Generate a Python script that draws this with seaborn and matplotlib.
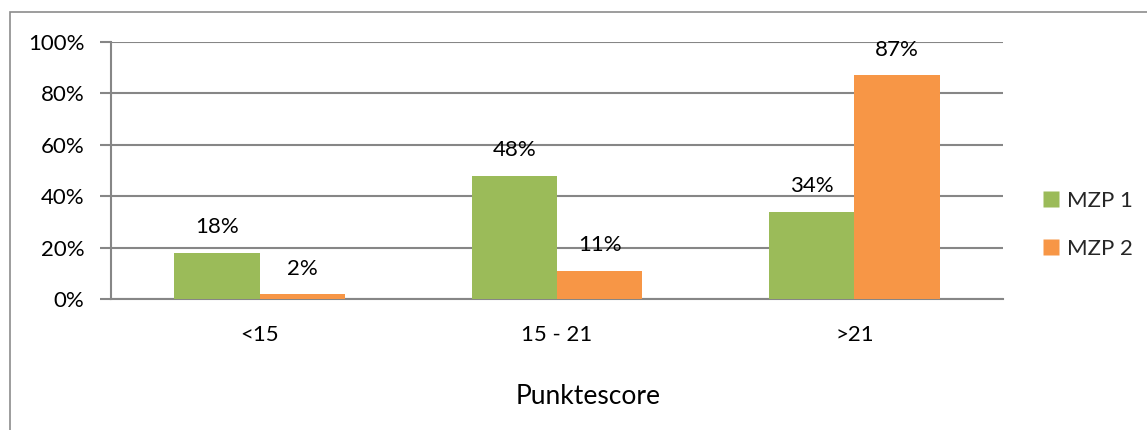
import matplotlib
matplotlib.use("Agg")
import matplotlib.pyplot as plt
import matplotlib.ticker as mticker
from matplotlib.lines import Line2D
from matplotlib.patches import Rectangle
import seaborn as sns
import pandas as pd

# Data
categories = ["<15", "15 - 21", ">21"]
series_names = ["MZP 1", "MZP 2"]
mzp1 = [0.18, 0.48, 0.34]
mzp2 = [0.02, 0.11, 0.87]
y_ticks = [0.0, 0.2, 0.4, 0.6, 0.8, 1.0]
x_label = "Punktescore"

colors = {"MZP 1": "#9BBB59", "MZP 2": "#F79646"}
grid_color = "#868686"
FS = 16

df = pd.DataFrame({
    "Kategorie": categories * 2,
    "Serie": [series_names[0]] * 3 + [series_names[1]] * 3,
    "Wert": mzp1 + mzp2,
})

sns.set_theme(style="white")
plt.rcParams["font.family"] = ["Lato", "DejaVu Sans"]

fig = plt.figure(figsize=(11.47, 4.30), dpi=100)
ax = fig.add_axes([111 / 1147, 1 - 299 / 430, (1003 - 111) / 1147, (299 - 42) / 430])

sns.barplot(data=df, x="Kategorie", y="Wert", hue="Serie", order=categories,
            hue_order=series_names, palette=colors, width=0.573, saturation=1,
            edgecolor="none", linewidth=0, ax=ax, legend=False, zorder=3)

# Value labels above each bar
for container in ax.containers:
    ax.bar_label(container, labels=[f"{v * 100:.0f}%" for v in container.datavalues],
                 padding=11, fontsize=FS, color="#000000")

ax.set_xlim(-0.5, 2.5)
ax.set_ylim(0, 1)
ax.set_yticks(y_ticks)
ax.yaxis.set_major_formatter(mticker.FuncFormatter(lambda v, _: f"{v * 100:.0f}%"))
ax.yaxis.grid(True, color=grid_color, linewidth=1.5, zorder=0)
ax.set_axisbelow(True)

# Category separators as minor ticks along the x axis
ax.set_xticks([-0.5, 0.5, 1.5, 2.5], minor=True)
ax.tick_params(axis="x", which="major", length=0, pad=19, labelsize=FS, colors="#000000")
ax.tick_params(axis="x", which="minor", length=8, width=1.5, color=grid_color, direction="out")
ax.tick_params(axis="y", which="major", length=8, width=1.5, color=grid_color,
               direction="out", pad=11, labelsize=FS, labelcolor="#000000", left=True)

for side in ["top", "right"]:
    ax.spines[side].set_visible(False)
for side in ["left", "bottom"]:
    ax.spines[side].set_color(grid_color)
    ax.spines[side].set_linewidth(1.5)

# Axis title centred on the whole chart area
ax.set_xlabel(x_label, fontsize=19, color="#000000", va="center")
ax.xaxis.set_label_coords((588 - 111) / 892, (299 - 397) / 257)
ax.set_ylabel("")

handles = [Line2D([0], [0], marker="s", linestyle="none", markersize=11,
                  markerfacecolor=colors[n], markeredgecolor="none") for n in series_names]
fig.legend(handles, series_names, loc="center left",
           bbox_to_anchor=(1020 / 1147, 1 - 225 / 430), frameon=False,
           fontsize=FS, handletextpad=0.2, labelspacing=1.25, handlelength=1.0)

# Outer chart frame
fig.patches.append(Rectangle((10 / 1147, -0.1), 1.2, 1.1 - 12 / 430,
                             transform=fig.transFigure, fill=False,
                             edgecolor="#8C8C8C", linewidth=1.2))

fig.savefig("out.png", dpi=100, facecolor="white")
